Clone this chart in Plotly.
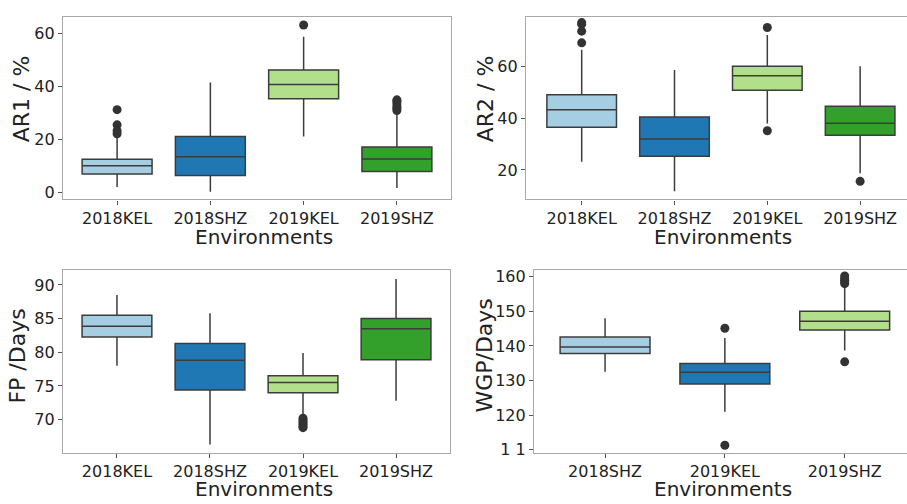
import plotly.graph_objects as go

W, H = 907, 504

colors = ["#a6cee3", "#1f78b4", "#b2df8a", "#33a02c"]
envs4 = ["2018KEL", "2018SHZ", "2019KEL", "2019SHZ"]
envs3 = ["2018SHZ", "2019KEL", "2019SHZ"]

# AR1 / %
ar1_q1 = [7.1, 6.5, 35.4, 8.0]
ar1_med = [10.2, 13.6, 40.8, 12.7]
ar1_q3 = [12.6, 21.2, 46.2, 17.2]
ar1_lo = [2.2, 0.4, 21.2, 1.8]
ar1_hi = [21.0, 41.5, 58.8, 30.5]
ar1_out = [[22.2, 23.4, 25.6, 31.3], [], [63.2], [31.0, 31.8, 32.5, 33.5, 34.5, 35.0]]

# AR2 / %
ar2_q1 = [36.5, 25.3, 50.7, 33.4]
ar2_med = [43.2, 31.9, 56.3, 38.0]
ar2_q3 = [49.0, 40.4, 60.0, 44.6]
ar2_lo = [23.2, 11.8, 37.9, 18.7]
ar2_hi = [66.3, 58.5, 72.0, 60.0]
ar2_out = [[69.0, 73.5, 76.2, 76.8], [], [35.1, 74.9], [15.6]]

# FP / Days
fp_q1 = [82.25, 74.4, 74.0, 78.9]
fp_med = [83.85, 78.8, 75.5, 83.5]
fp_q3 = [85.5, 81.3, 76.5, 85.0]
fp_lo = [78.0, 66.3, 70.4, 72.8]
fp_hi = [88.5, 85.8, 79.9, 90.9]
fp_out = [[], [], [70.2, 69.9, 69.6, 69.3, 69.0, 68.8], []]

# WGP / Days
wgp_q1 = [137.8, 129.0, 144.6]
wgp_med = [139.7, 132.4, 147.1]
wgp_q3 = [142.6, 134.9, 150.0]
wgp_lo = [132.5, 121.0, 138.7]
wgp_hi = [148.0, 142.3, 157.6]
wgp_out = [[], [145.1, 111.3], [135.4, 158.0, 158.5, 159.0, 159.5, 160.2]]

wgp_tickvals = [110, 120, 130, 140, 150, 160]
wgp_ticktext = ["1 1", "120", "130", "140", "150", "160"]

FONT = "DejaVu Sans"
TXT = "#222222"
FRAME = "#a8a8a8"
EDGE = "#3c3c3c"

fig = go.Figure()

panels = [
    ("", envs4, ar1_q1, ar1_med, ar1_q3, ar1_lo, ar1_hi, ar1_out, [0, 1, 2, 3],
     [-0.58, 3.58], [-2.5, 66.3], (63, 451), (14, 200), True),
    ("2", envs4, ar2_q1, ar2_med, ar2_q3, ar2_lo, ar2_hi, ar2_out, [0, 1, 2, 3],
     [-0.6, 3.505], [8.64, 79.05], (526, 907), (14, 200), False),
    ("3", envs4, fp_q1, fp_med, fp_q3, fp_lo, fp_hi, fp_out, [0, 1, 2, 3],
     [-0.58, 3.58], [65.06, 92.2], (63, 450), (272, 458), True),
    ("4", envs3, wgp_q1, wgp_med, wgp_q3, wgp_lo, wgp_hi, wgp_out, [0, 1, 2],
     [-0.593, 2.52], [109.1, 161.9], (534, 907), (272, 458), False),
]

layout_axes = {}
for suf, cats, q1, med, q3, lo, hi, outs, cidx, xr, yr, dx, dy, mir in panels:
    xa = "x" + suf
    ya = "y" + suf
    for i, c in enumerate(cats):
        fig.add_trace(go.Box(
            x=[c], q1=[q1[i]], median=[med[i]], q3=[q3[i]],
            lowerfence=[lo[i]], upperfence=[hi[i]],
            fillcolor=colors[cidx[i]], line=dict(color=EDGE, width=1.5),
            whiskerwidth=0, width=0.75, boxpoints=False,
            xaxis=xa, yaxis=ya, showlegend=False, hoverinfo="skip",
        ))
        if outs[i]:
            fig.add_trace(go.Scatter(
                x=[c] * len(outs[i]), y=outs[i], mode="markers",
                marker=dict(color="#333333", size=9, line=dict(width=0)),
                xaxis=xa, yaxis=ya, showlegend=False, hoverinfo="skip",
            ))
    xkey = "xaxis" + suf
    ykey = "yaxis" + suf
    layout_axes[xkey] = dict(
        domain=[dx[0] / W, dx[1] / W], anchor=ya, type="category",
        categoryorder="array", categoryarray=cats, range=xr,
        showline=True, linecolor=FRAME, linewidth=1.2, mirror=True,
        ticks="outside", ticklen=4, tickcolor="#555555", tickwidth=1.2,
        showgrid=False, zeroline=False,
        tickfont=dict(family=FONT, size=16, color=TXT),
    )
    layout_axes[ykey] = dict(
        domain=[1 - dy[1] / H, 1 - dy[0] / H], anchor=xa, range=yr,
        showline=True, linecolor=FRAME, linewidth=1.2, mirror=mir,
        ticks="outside", ticklen=4, tickcolor="#555555", tickwidth=1.2,
        showgrid=False, zeroline=False,
        tickfont=dict(family=FONT, size=16, color=TXT),
    )

layout_axes["yaxis"].update(tickvals=[0, 20, 40, 60])
layout_axes["yaxis2"].update(tickvals=[20, 40, 60])
layout_axes["yaxis3"].update(tickvals=[70, 75, 80, 85, 90])
layout_axes["yaxis4"].update(tickvals=wgp_tickvals, ticktext=wgp_ticktext)

def ann(text, px, py, size, angle=0):
    return dict(text=text, x=px / W, y=1 - py / H, xref="paper", yref="paper",
                xanchor="center", yanchor="middle", showarrow=False, textangle=angle,
                font=dict(family=FONT, size=size, color=TXT))

annotations = [
    ann("AR1 / %", 21, 98, 22, -90),
    ann("AR2 / %", 485, 98, 22, -90),
    ann("FP /Days", 18, 360, 22, -90),
    ann("WGP/Days", 485, 359, 22, -90),
    ann("Environments", 264, 238, 20),
    ann("Environments", 723, 238, 20),
    ann("Environments", 264, 495, 20),
    ann("Environments", 723, 495, 20),
]

fig.update_layout(
    width=W, height=H, margin=dict(l=0, r=0, t=0, b=0),
    paper_bgcolor="white", plot_bgcolor="white",
    boxmode="overlay", showlegend=False,
    annotations=annotations,
    font=dict(family=FONT, color=TXT),
    **layout_axes,
)

fig.write_html("out.html",
               config={"displayModeBar": False},
               post_script="document.body.style.margin='0';document.body.style.overflow='hidden';")
